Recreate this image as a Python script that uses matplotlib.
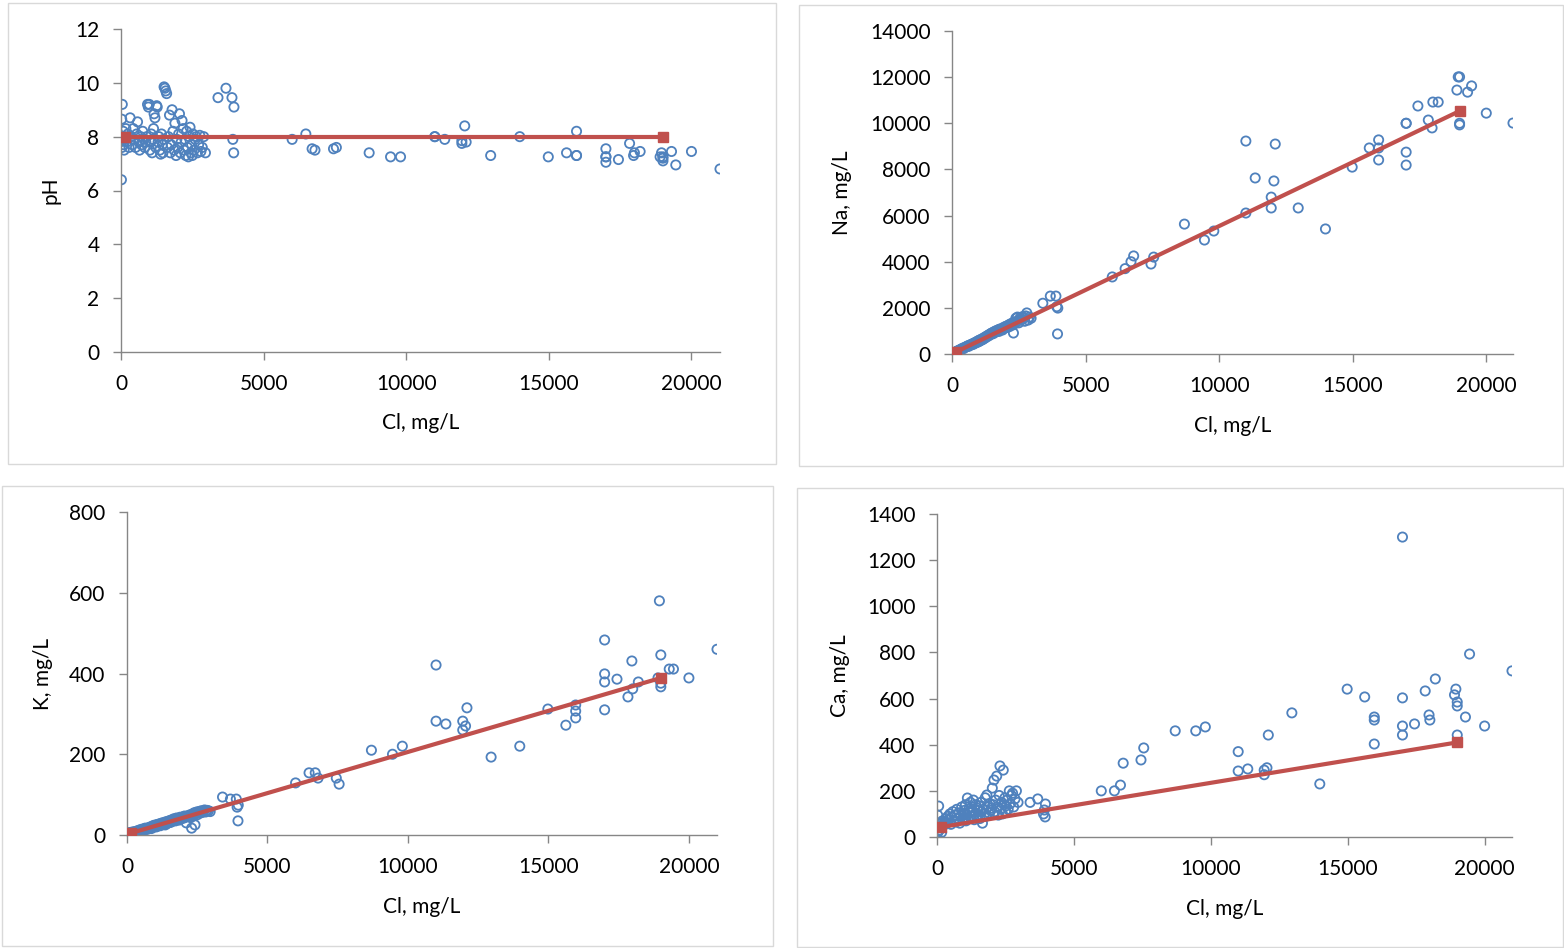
import matplotlib
matplotlib.use("Agg")
import matplotlib.pyplot as plt
from matplotlib.patches import Rectangle

plt.rcParams['font.family'] = ['Lato', 'DejaVu Sans']

# ---------------- data ----------------
# chloride (mg/L) of each sample
cl = [15, 25, 35, 45, 60, 75, 90, 110, 140, 170, 200, 240, 280, 320,
      360, 400, 430, 470, 510, 550, 580, 620, 650, 690, 720, 760, 800, 830, 870, 900, 930, 960, 990, 1010, 1040, 1060,
      1090, 1110, 1140, 1160, 1190, 1220, 1250, 1270, 1300, 1330, 1360, 1390, 1420, 1450, 1470, 1490,
      1510, 1540, 1570, 1600, 1630, 1660, 1700, 1730, 1760, 1790, 1820, 1860, 1890, 1930, 1960, 1990,
      2020, 2050, 2080, 2110, 2140, 2180, 2210, 2240, 2270, 2300, 2330, 2360, 2390, 2420, 2450, 2480, 2500, 2520,
      2560, 2600, 2640, 2680, 2720, 2760, 2800, 2850, 2900, 2960,
      3400, 3680, 3890, 3960, 3920, 3950,
      6000, 6480, 6700, 6800, 7450, 7550, 8700, 9450, 9800, 11000, 11000, 11350, 11950, 11950, 12050, 12100,
      12960, 13980, 14980, 15620, 15970, 15970, 15970, 17000, 17000, 17000, 17000, 17440, 17830, 17970, 18000,
      18200, 18900, 18950, 19000, 19000, 19000, 19300, 19450, 20000, 21000]

ph = [6.4, 8.65, 7.6, 9.2, 7.9, 8.2, 7.7, 7.5, 8.0, 8.3, 7.8, 8.1, 7.6, 8.7,
      8.0, 7.7, 8.3, 7.9, 7.6, 8.1, 8.55, 7.8, 7.5, 8.0, 7.7, 8.2, 7.9, 7.6, 7.8, 8.0, 9.2, 9.1, 9.2, 7.5, 7.8, 8.1,
      7.4, 7.9, 8.3, 8.85, 8.7, 7.6, 9.15, 9.1, 7.8, 8.0, 7.5, 7.35, 8.1, 7.7, 7.4, 7.9,
      9.85, 9.8, 9.7, 9.6, 7.6, 8.0, 8.8, 7.4, 7.7, 9.0, 8.2, 7.5, 8.5, 7.3, 7.9, 7.6,
      8.1, 8.85, 7.4, 7.8, 8.6, 8.3, 7.5, 7.9, 7.3, 8.2, 7.6, 7.25, 8.0, 8.35, 7.4, 7.7, 7.3, 8.1,
      7.5, 7.9, 8.0, 7.4, 7.7, 8.05, 7.45, 7.6, 8.0, 7.4,
      9.45, 9.8, 9.45, 9.1, 7.9, 7.4,
      7.9, 8.1, 7.55, 7.5, 7.55, 7.6, 7.4, 7.25, 7.25, 8.0, 8.0, 7.9, 7.75, 7.85, 8.4, 7.8,
      7.3, 8.0, 7.25, 7.4, 7.3, 8.2, 7.3, 7.55, 7.25, 7.05, 7.25, 7.15, 7.75, 7.3, 7.4,
      7.45, 7.25, 7.4, 7.1, 7.25, 7.2, 7.45, 6.95, 7.45, 6.8]

na = [25, 20, 30, 40, 50, 45, 60, 70, 90, 100, 130, 150, 170, 200,
      220, 250, 230, 280, 300, 320, 350, 330, 380, 400, 390, 440, 420, 480, 470, 520, 500, 560, 530, 590, 560, 620,
      600, 640, 620, 680, 660, 720, 700, 740, 780, 760, 820, 800, 860, 850, 900, 880,
      920, 880, 960, 940, 1000, 960, 1020, 1050, 980, 1080, 1060, 1100, 1040, 1150, 1120, 1180,
      1200, 1150, 1220, 1250, 1180, 1300, 1280, 1240, 1350, 910, 1380, 1320, 1550, 1400, 1600, 1450, 1350, 1500,
      1560, 1480, 1620, 1550, 1420, 1650, 1780, 1470, 1600, 1550,
      2200, 2510, 2510, 1990, 2050, 870,
      3340, 3700, 4000, 4250, 3900, 4200, 5630, 4940, 5330, 9230, 6110, 7630, 6800, 6330, 7500, 9100,
      6330, 5420, 8100, 8930, 9280, 8930, 8410, 10000, 10000, 8750, 8190, 10750, 10140, 9800, 10920,
      10920, 11440, 12010, 12010, 10000, 9930, 11350, 11620, 10440, 10010]

k = [2, 3, 2, 4, 3, 5, 4, 6, 5, 7, 6, 8, 7, 9,
     10, 9, 12, 11, 14, 13, 15, 12, 17, 16, 14, 18, 17, 20, 16, 22, 19, 24, 21, 23, 20, 26,
     22, 25, 24, 28, 23, 27, 30, 26, 29, 31, 25, 33, 28, 32, 30, 35,
     34, 31, 37, 33, 36, 40, 38, 35, 42, 39, 41, 37, 44, 40, 43, 45,
     42, 47, 44, 30, 46, 48, 45, 50, 43, 17, 52, 49, 55, 25, 53, 57, 50, 56,
     58, 54, 60, 56, 59, 62, 57, 61, 60, 58,
     94, 89, 89, 74, 69, 35,
     129, 154, 154, 141, 141, 126, 210, 200, 220, 421, 282, 275, 282, 260, 270, 315,
     193, 220, 312, 272, 322, 307, 290, 483, 399, 379, 310, 386, 342, 431, 362,
     379, 389, 580, 446, 376, 367, 411, 411, 389, 460]

ca = [15, 95, 40, 25, 134, 55, 30, 60, 45, 20, 70, 50, 65, 80,
      60, 90, 75, 100, 55, 85, 110, 70, 95, 65, 120, 80, 105, 60, 90, 130, 75, 100, 115, 85, 140, 70,
      95, 169, 80, 120, 105, 150, 90, 130, 110, 160, 75, 100, 140, 85, 125, 115,
      95, 135, 80, 150, 110, 60, 120, 100, 170, 90, 182, 130, 105, 145, 115, 125,
      212, 140, 247, 110, 160, 264, 130, 95, 180, 308, 120, 150, 100, 290, 140, 170, 110, 135,
      160, 120, 200, 145, 180, 190, 130, 165, 200, 150,
      150, 165, 100, 143, 117, 87,
      200, 200, 225, 320, 334, 386, 460, 460, 477, 370, 286, 295, 270, 290, 300, 442,
      538, 230, 641, 607, 520, 507, 403, 1300, 603, 481, 442, 490, 633, 529, 507,
      685, 616, 641, 585, 568, 442, 520, 793, 481, 720]

# reference (red) line end points
line_cl = [150, 19000]
line_ph = [8.0, 8.0]
line_na = [90, 10530]
line_k = [5, 389]
line_ca = [43, 410]

panels = [
    dict(y=ph, ly=line_ph, ylabel="pH", ymax=12, ystep=2),
    dict(y=na, ly=line_na, ylabel="Na, mg/L", ymax=14000, ystep=2000),
    dict(y=k, ly=line_k, ylabel="K, mg/L", ymax=800, ystep=200),
    dict(y=ca, ly=line_ca, ylabel="Ca, mg/L", ymax=1400, ystep=200),
]

# ---------------- layout ----------------
W, H = 1564, 948
fig = plt.figure(figsize=(W / 100, H / 100), dpi=100)

# panel frames (pixel boxes: x0, y0, x1, y1)
frames = [(8, 3, 776, 464), (799, 5, 1563, 466), (2, 486, 773, 946), (797, 488, 1563, 947)]
for x0, y0, x1, y1 in frames:
    fig.add_artist(Rectangle((x0 / W, 1 - y1 / H), (x1 - x0) / W, (y1 - y0) / H,
                             transform=fig.transFigure, fill=False, edgecolor="#D9D9D9", linewidth=1))

# axes boxes (pixel: left, right, top, bottom)
axboxes = [(121, 720, 29, 352), (952, 1513, 31, 354), (127, 717, 512, 835), (937, 1512, 514, 837)]
ylabel_right = [61, 852, 53, 850]   # right edge of rotated y label text
xlabel_top = [413, 416, 897, 899]   # top edge of x label text

blue = "#4F81BD"
red = "#C0504D"
gray = "#868686"

for p, (l, r, t, b), lx, xly in zip(panels, axboxes, ylabel_right, xlabel_top):
    ax = fig.add_axes([l / W, 1 - b / H, (r - l) / W, (b - t) / H])
    ax.scatter(cl, p["y"], s=44, facecolors="none", edgecolors=blue, linewidths=1.3, zorder=2)
    ax.plot(line_cl, p["ly"], color=red, linewidth=3, marker="s", markersize=6.5, zorder=3)
    ax.set_xlim(0, 21000)
    ax.set_ylim(0, p["ymax"])
    ax.set_xticks(range(0, 20001, 5000))
    ax.set_yticks(range(0, p["ymax"] + 1, p["ystep"]))
    for s in ("top", "right"):
        ax.spines[s].set_visible(False)
    for s in ("left", "bottom"):
        ax.spines[s].set_color(gray)
        ax.spines[s].set_linewidth(1)
    ax.tick_params(direction="out", length=5.5, width=1, color=gray, labelsize=15, pad=10,
                   labelcolor="black")
    ax.set_xlabel("Cl, mg/L", fontsize=15)
    ax.set_ylabel(p["ylabel"], fontsize=15)
    ax.xaxis.set_label_coords(0.5, -(xly - b) / (b - t))
    ax.yaxis.set_label_coords(-(l - lx) / (r - l), 0.5)
    ax.patch.set_alpha(0)

fig.savefig("out.png", dpi=100)
